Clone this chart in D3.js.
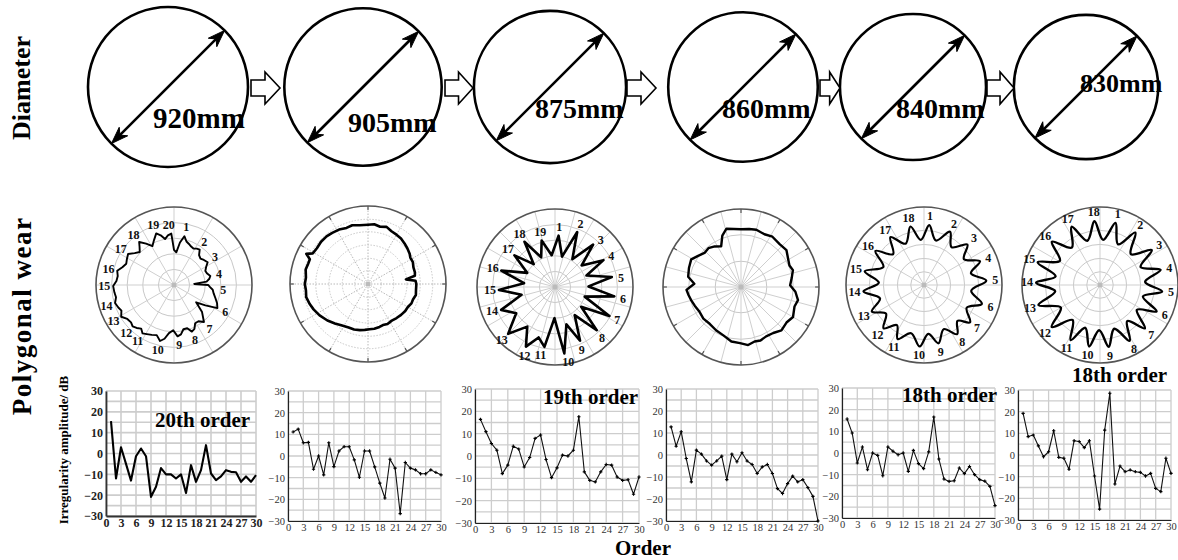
<!DOCTYPE html>
<html><head><meta charset="utf-8">
<script src="https://cdn.jsdelivr.net/npm/d3@7"></script>
<style>
body{margin:0;background:#fff}
svg{display:block}
text{font-family:"Liberation Serif","Times New Roman",serif}
</style>
</head><body>
<svg id="c" width="1178" height="560"></svg>
<script>
// ---------------- DATA ----------------
const diameterLabels = ["920mm","905mm","875mm","860mm","840mm","830mm"];
const diameterValues = [920,905,875,860,840,830];
const dominantOrders = ["20th order","","19th order","","18th order","18th order"];

const orders = [1,2,3,4,5,6,7,8,9,10,11,12,13,14,15,16,17,18,19,20,21,22,23,24,25,26,27,28,29,30];
const xTickLabels = [0,3,6,9,12,15,18,21,24,27,30];
const yTickLabels = [-30,-20,-10,0,10,20,30];

const amp920 = [15.5,-12,3,-5,-13,-1.3,2.4,-1.3,-20.8,-16,-7,-10,-10,-12,-10,-19,-5.6,-13.6,-8,4,-9.6,-12.8,-11,-8,-8.8,-9,-13.6,-11,-13.6,-10.4];
const amp905 = [11.1,12.4,6.1,6.3,-6.1,0,-8.7,6.1,-4.9,2.3,4.3,4.3,-1.8,-9.8,2.3,2.3,-5,-12.5,-19.4,-1.5,-5.6,-26.6,-3,-5.6,-6.4,-8.2,-8.2,-6.4,-7.6,-8.7];
const amp875 = [16.4,10.9,5.6,2.6,-7.9,-4.1,4.4,3.1,-4.9,-0.7,7.9,9.4,-1.6,-9.7,-5.3,0.4,0,2.6,17.6,-7.1,-10.9,-11.6,-7.1,-3.8,-4.1,-9.4,-10.9,-10.6,-17.1,-9.4];
const amp860 = [12.8,4,10.6,-1.6,-12.2,2.2,0.4,-2.7,-4.6,-2.7,-0.5,-11.2,0.4,-3.1,1,-2.7,-4.3,-8.4,-5.4,-4.3,-8.4,-15.3,-17.5,-13,-9.6,-12.2,-11.2,-14.8,-18.8,-30];
const amp840 = [15.7,9.2,-4.6,2.8,-7.7,0,-1.1,-10.5,2.8,0.8,-0.8,0,-8.5,1.2,-4.9,-7.2,0.5,16.6,-2.8,-12,-13.1,-12.8,-6.9,-9.5,-6.2,-10,-12.3,-13,-15.4,-24.3];
const amp830 = [19.2,8.5,9.2,4.2,-0.8,1.5,11.2,-1.1,-1.5,-6.6,6.6,6.2,3.4,6.6,-9.7,-25,11.5,28.5,-13.4,-5.1,-7.7,-6.9,-7.7,-8,-9.7,-8.5,-15.4,-16.9,-1.5,-8.5];

// polar wear profiles: [angle deg clockwise from top, radius % of plot radius]
const wear920 = [[0,45],[4,42],[8,55],[12,64],[16,58],[20,56],[24,54],[28,53],[32,55],[36,56],[40,50],[45,48],[50,50],[56,52],[61,47],[66,44],[71,45],[76,48],[80,46],[84,42],[87,26],[90,44],[93,46],[97,50],[102,52],[108,56],[113,60],[118,63],[123,48],[128,36],[134,50],[141,61],[146,56],[151,56],[155,62],[159,64],[163,58],[168,58],[172,64],[176,66],[181,58],[186,62],[190,70],[194,74],[199,68],[204,70],[209,72],[213,74],[217,70],[221,73],[225,75],[229,73],[234,74],[239,79],[244,75],[248,77],[253,79],[258,76],[263,77],[269,78],[274,74],[279,73],[284,75],[289,70],[294,67],[299,69],[304,71],[309,65],[314,61],[318,66],[321,71],[326,64],[331,57],[336,63],[341,70],[345,66],[349,60],[353,64],[357,66]];
const wear905 = [[0,76],[6,77],[12,75],[18,77],[24,74],[30,73],[36,72],[42,70],[48,68],[54,66],[58,64],[64,64],[70,62],[76,62],[80,61],[83,49],[86,61],[90,62],[97,62],[103,63],[109,61],[114,61],[120,59],[126,59],[133,58],[140,57],[147,56],[154,57],[160,56],[165,57],[172,58],[178,58],[184,59],[190,60],[197,61],[204,61],[213,63],[220,66],[228,70],[237,74],[245,77],[251,79],[258,81],[264,80],[270,81],[276,80],[283,82],[289,81],[293,81],[296,88],[299,81],[305,80],[312,81],[319,81],[325,80],[332,79],[339,77],[345,78],[352,76]];
const wear875 = [[4,66],[13,40],[22,76],[32,42],[42,73],[51,44],[61,71],[70,43],[80,74],[89,43],[99,77],[108,40],[118,79],[127,42],[136,77],[145,44],[155,76],[163,50],[172,86],[181,40],[190,78],[198,68],[206,85],[215,62],[225,85],[236,60],[247,75],[257,44],[267,72],[277,40],[287,72],[297,40],[308,66],[317,40],[326,70],[335,42],[344,62],[354,41]];
const wear860 = [[0,74],[8,75],[15,76],[24,74],[32,76],[42,74],[51,75],[60,70],[66,68],[72,70],[80,66],[88,63],[95,70],[103,75],[110,73],[120,77],[128,74],[137,76],[145,72],[153,71],[160,73],[166,72],[173,75],[181,72],[190,71],[200,66],[210,64],[220,62],[230,63],[240,62],[248,64],[255,66],[261,68],[267,70],[274,60],[281,69],[290,71],[299,73],[306,68],[313,64],[320,65],[327,62],[334,58],[340,70],[346,77],[353,75]];
const wear840 = [[5,77],[15,59],[26,76],[36,60],[47,76],[57,61],[67,78],[76,62],[86,80],[97,61],[108,78],[118,62],[129,76],[137,63],[146,76],[156,62],[166,77],[175,63],[184,79],[195,64],[206,77],[214,62],[223,76],[233,61],[243,75],[253,59],[264,78],[273,58],[283,78],[294,57],[305,76],[315,56],[325,75],[336,58],[347,77],[356,58]];
const wear830 = [[4,58],[14,82],[24,57],[34,81],[45,56],[56,80],[66,57],[76,80],[86,58],[96,80],[105,57],[115,80],[124,57],[134,80],[143,58],[152,81],[162,59],[172,80],[181,58],[190,80],[199,58],[208,80],[218,57],[229,82],[240,58],[252,83],[262,58],[272,82],[281,58],[290,85],[301,60],[312,83],[323,60],[334,83],[344,59],[355,82]];

// lobe label angles (label n at index n-1)
const lobes920 = [12,35,56,76,96,118,141,159,175,194,213,225,239,253,269,284,304,321,341,355];
const lobes875 = [4,22,44,61,82,100,118,137,157,170,192,204,225,249,267,287,309,326,345];
const lobes840 = [5,26,47,67,86,108,129,146,166,184,206,223,243,264,283,305,325,347];
const lobes830 = [14,34,56,76,96,115,134,152,172,190,208,229,252,272,290,312,334,355];

// ---------------- LAYOUT ----------------
const svg = d3.select("#c");
const W = 1178, H = 560;
svg.append("rect").attr("width",W).attr("height",H).attr("fill","#fff");

const wheelCx = [168,363,550,743,913,1086];
const wheelCy = 87;
const labelDx = [-15,-15,-15,-21,-17,-6];
const labelDy = [41,45,31,31,31,5];
const labelSize = [29,28,28,28,28,26];
const arrowX = [251,445,627,820,987];
const arrowLen = [29,28,29,20,27];
const rWheel = d3.scaleLinear().domain([0,920]).range([0,80]);

// row titles
function vText(x,y,t,size,ls){
  svg.append("text").attr("transform",`translate(${x},${y}) rotate(-90)`)
    .attr("text-anchor","middle").attr("font-weight","bold").attr("font-size",size)
    .attr("letter-spacing",ls||0)
    .attr("fill","#000").text(t);
}
vText(30,88,"Diameter",26);
vText(31,316,"Polygonal wear",27,1.5);
vText(68,450,"Irregularity amplitude/ dB",13);

// ---------- Row 1: wheels ----------
function arrowHead(g, tip, ang){
  const L=17, w=6, n=12;
  const ux=Math.cos(ang), uy=Math.sin(ang), px=-uy, py=ux;
  const p = [
    [tip[0],tip[1]],
    [tip[0]-ux*L+px*w, tip[1]-uy*L+py*w],
    [tip[0]-ux*n, tip[1]-uy*n],
    [tip[0]-ux*L-px*w, tip[1]-uy*L-py*w]
  ];
  g.append("path").attr("d","M"+p.map(d=>d.join(",")).join("L")+"Z").attr("fill","#000").attr("stroke","#000").attr("stroke-width",1);
}
diameterValues.forEach((d,i)=>{
  const g = svg.append("g");
  const cx = wheelCx[i], r = rWheel(d);
  g.append("circle").attr("cx",cx).attr("cy",wheelCy).attr("r",r).attr("fill","none").attr("stroke","#000").attr("stroke-width",2.6);
  const a = Math.PI/4;
  const p1=[cx+r*Math.cos(a), wheelCy-r*Math.sin(a)];
  const p2=[cx-r*Math.cos(a), wheelCy+r*Math.sin(a)];
  const ang1 = Math.atan2(p1[1]-p2[1], p1[0]-p2[0]);
  g.append("line").attr("x1",p1[0]-Math.cos(ang1)*8).attr("y1",p1[1]-Math.sin(ang1)*8)
    .attr("x2",p2[0]+Math.cos(ang1)*8).attr("y2",p2[1]+Math.sin(ang1)*8)
    .attr("stroke","#000").attr("stroke-width",2.6);
  arrowHead(g,p1,ang1);
  arrowHead(g,p2,ang1+Math.PI);
  g.append("text").attr("x",cx+labelDx[i]).attr("y",wheelCy+labelDy[i])
    .attr("font-size",labelSize[i]).attr("font-weight","bold").attr("fill","#000")
    .text(diameterLabels[i]);
});
arrowX.forEach((x0,i)=>{
  const cy=88, L=arrowLen[i], s=L/29;
  const pts=[[x0,cy-8],[x0+14*s,cy-8],[x0+14*s,cy-16],[x0+L,cy],[x0+14*s,cy+16],[x0+14*s,cy+8],[x0,cy+8]];
  svg.append("path").attr("d","M"+pts.map(p=>p.join(",")).join("L")+"Z")
    .attr("fill","#fff").attr("stroke","#000").attr("stroke-width",1.6);
});

// ---------- Row 2: polar wear ----------
const polarCx = [174,368,555,741,924,1100];
const polarCy = [285,284,287,287,285,285];
const polarR = 78;
const polarStyles = [
  {rings:[20,40,60,80], spoke:30, dash:null, ticks:false, sw:1.9, curve:d3.curveLinearClosed},
  {rings:[17,33,50,67,83], spoke:30, dash:"1.5,1.5", ticks:true, sw:2.6, curve:d3.curveLinearClosed},
  {rings:[20,40,60,80], spoke:15, dash:null, ticks:false, sw:2.6, curve:d3.curveLinearClosed},
  {rings:[33,67], spoke:15, dash:null, ticks:true, sw:2.4, curve:d3.curveLinearClosed},
  {rings:[17,34,52,70], spoke:30, dash:null, ticks:false, sw:2.2, curve:d3.curveCatmullRomClosed},
  {rings:[17,34,52,70], spoke:30, dash:null, ticks:false, sw:2.4, curve:d3.curveCatmullRomClosed.alpha(0.5)}
];
const profiles = [wear920,wear905,wear875,wear860,wear840,wear830];
const lobeSets = [lobes920,null,lobes875,null,lobes840,lobes830];
const rad = d=>d*Math.PI/180;

profiles.forEach((prof,i)=>{
  const st = polarStyles[i];
  const g = svg.append("g").attr("transform",`translate(${polarCx[i]},${polarCy[i]})`);
  const r = d3.scaleLinear().domain([0,100]).range([0,polarR]);
  g.append("g").selectAll("circle").data(st.rings).join("circle")
    .attr("r",d=>r(d)).attr("fill","none").attr("stroke","#c8c8c8").attr("stroke-width",1)
    .attr("stroke-dasharray",st.dash);
  const spokes = d3.range(0,360,st.spoke);
  g.append("g").selectAll("line").data(spokes).join("line")
    .attr("x1",0).attr("y1",0)
    .attr("x2",d=>r(100)*Math.sin(rad(d))).attr("y2",d=>-r(100)*Math.cos(rad(d)))
    .attr("stroke",st.dash? "#b8b8b8":"#cfcfcf").attr("stroke-width",1).attr("stroke-dasharray",st.dash);
  g.append("circle").attr("r",r(100)).attr("fill","none").attr("stroke","#555").attr("stroke-width",1.6);
  if(st.ticks){
    g.append("g").selectAll("line").data(d3.range(0,360,30)).join("line")
      .attr("x1",d=>r(100)*Math.sin(rad(d))).attr("y1",d=>-r(100)*Math.cos(rad(d)))
      .attr("x2",d=>r(95)*Math.sin(rad(d))).attr("y2",d=>-r(95)*Math.cos(rad(d)))
      .attr("stroke","#555").attr("stroke-width",1.2);
  }
  g.append("circle").attr("r",2.5).attr("fill","#bbb");
  const line = d3.lineRadial().angle(d=>rad(d[0])).radius(d=>r(d[1])).curve(st.curve);
  g.append("path").attr("d",line(prof)).attr("fill","none").attr("stroke","#000")
    .attr("stroke-width",st.sw).attr("stroke-linejoin","round");
  const lobes = lobeSets[i];
  if(lobes){
    lobes.forEach((a,k)=>{
      const near = prof.filter(p=>{let dd=Math.abs(p[0]-a); dd=Math.min(dd,360-dd); return dd<=8;});
      const pr = d3.max(near,p=>p[1]) || 70;
      const rr = r(pr)+9;
      g.append("text").attr("x",rr*Math.sin(rad(a))).attr("y",-rr*Math.cos(rad(a)))
        .attr("text-anchor","middle").attr("dominant-baseline","central")
        .attr("font-size",12).attr("font-weight","bold").attr("fill","#111").text(k+1);
    });
  }
});

// ---------- Row 3: amplitude spectra ----------
const chartBoxes = [
 {x0:106,x1:256,y0:391,y1:516},
 {x0:288,x1:441,y0:391,y1:521},
 {x0:475,x1:639,y0:389,y1:523},
 {x0:666,x1:818,y0:389,y1:521},
 {x0:842,x1:995,y0:388,y1:518},
 {x0:1018,x1:1171,y0:390,y1:520}];
const series = [amp920,amp905,amp875,amp860,amp840,amp830];
const titlePos = [[155,427],null,[543,404],null,[902,402],[1072,382]];
const yGridVals = [-30,-25,-20,-15,-10,-5,0,5,10,15,20,25,30];

series.forEach((vals,i)=>{
  const b = chartBoxes[i];
  const first = i===0;
  const x = d3.scaleLinear().domain([0,30]).range([b.x0,b.x1]);
  const y = d3.scaleLinear().domain([-30,30]).range([b.y1,b.y0]);
  const g = svg.append("g");
  g.append("g").selectAll("line").data(xTickLabels).join("line")
    .attr("x1",d=>x(d)).attr("x2",d=>x(d)).attr("y1",b.y0).attr("y2",b.y1)
    .attr("stroke","#cdcdcd").attr("stroke-width",first?1.6:1.3);
  g.append("g").selectAll("line").data(yGridVals).join("line")
    .attr("x1",b.x0).attr("x2",b.x1).attr("y1",d=>y(d)).attr("y2",d=>y(d))
    .attr("stroke","#cdcdcd").attr("stroke-width",first?1.6:1.3);
  const fs = first?12:10.5;
  const xa = g.append("g").attr("transform",`translate(0,${b.y1})`)
    .call(d3.axisBottom(x).tickValues(xTickLabels).tickSize(0).tickPadding(first?2:2.5));
  const ya = g.append("g").attr("transform",`translate(${b.x0},0)`)
    .call(d3.axisLeft(y).tickValues(yTickLabels).tickSize(0).tickPadding(3));
  [xa,ya].forEach(a=>{
    a.attr("font-family",null).attr("font-size",null);
    a.select(".domain").attr("stroke",first?"#333":"#222").attr("stroke-width",first?1.8:1.2);
    a.selectAll("text").attr("font-size",fs).attr("font-weight",first?"bold":"normal")
      .attr("fill",first?"#222":"#333");
  });
  const pts = orders.map((o,k)=>[o,vals[k]]);
  const line = d3.line().x(d=>x(d[0])).y(d=>y(d[1]));
  g.append("path").attr("d",line(pts)).attr("fill","none")
    .attr("stroke",first?"#000":"#111").attr("stroke-width",first?2.1:1.1)
    .attr("stroke-linejoin","round");
  if(!first){
    g.append("g").selectAll("path").data(pts).join("path")
      .attr("d",d3.symbol().type(d3.symbolCross).size(6))
      .attr("transform",d=>`translate(${x(d[0])},${y(d[1])})`).attr("fill","#000");
  }
  if(dominantOrders[i]){
    g.append("text").attr("x",titlePos[i][0]).attr("y",titlePos[i][1])
      .attr("font-size",21).attr("font-weight","bold").attr("fill","#000").text(dominantOrders[i]);
  }
});

svg.append("text").attr("x",643).attr("y",555).attr("text-anchor","middle")
  .attr("font-size",21).attr("font-weight","bold").attr("fill","#000").text("Order");
</script>
</body></html>
